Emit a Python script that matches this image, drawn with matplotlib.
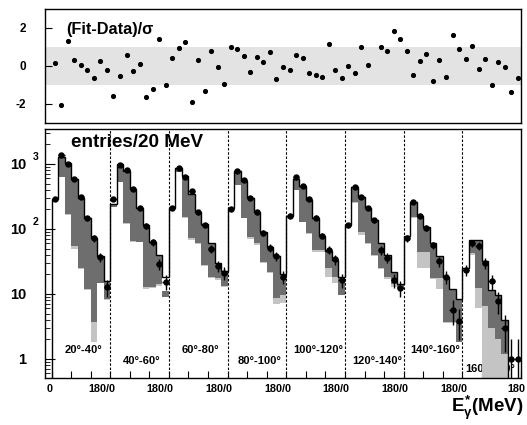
import numpy as np
import matplotlib
matplotlib.use("Agg")
import matplotlib.pyplot as plt
from matplotlib.ticker import FixedLocator, NullFormatter, LogLocator

plt.rcParams['font.family'] = ['Liberation Sans', 'DejaVu Sans']
plt.rcParams['font.weight'] = 'bold'
plt.rcParams['mathtext.fontset'] = 'custom'
plt.rcParams['mathtext.rm'] = 'Liberation Sans:bold'
plt.rcParams['mathtext.bf'] = 'Liberation Sans:bold'
plt.rcParams['mathtext.it'] = 'Liberation Sans:bold'

# 8 angular slices, 9 bins of 20 MeV each (0-180 MeV)
angle_labels = ['20°-40°', '40°-60°', '60°-80°', '80°-100°',
                '100°-120°', '120°-140°', '140°-160°', '160°-180°']

# data points (entries / 20 MeV)
counts = [
    [290, 1380, 1000, 590, 305, 146, 72, 37, 12.7],
    [287, 970, 800, 410, 208, 111, 62, 29, 15.5],
    [213, 880, 640, 390, 180, 115, 50, 26.6, 21.3],
    [200, 782, 570, 297, 180, 86, 51, 38, 18.5],
    [161, 620, 465, 287, 150, 79, 48, 34, 16.3],
    [115, 435, 315, 208, 135, 47, 36, 16.3, 12.4],
    [72, 262, 161, 103, 56, 32, 18.5, 5.7, 3.9],
    [23.5, 60, 55, 30, 15.6, 7.8, 3.0, 1.0, 1.0],
]

# total fit
fit_total = [
    [290, 1260, 1030, 590, 297, 146, 72, 38, 16],
    [240, 990, 790, 410, 213, 115, 62, 40, 18],
    [213, 880, 654, 347, 185, 120, 60, 30, 22.6],
    [208, 782, 555, 297, 181, 90, 52, 38, 20],
    [161, 590, 465, 280, 150, 79, 46, 33, 18.5],
    [115, 449, 315, 208, 135, 60, 40, 22, 14],
    [79, 264, 161, 106, 60, 38, 18.5, 12, 8.4],
    [25, 68, 68, 32, 11.5, 9.7, 4, 0.3, 0.2],
]

# top of dark grey band
band_top = [
    [290, 1260, 1030, 590, 297, 146, 72, 38, 16],
    [240, 990, 790, 410, 213, 115, 62, 40, 11],
    [213, 880, 654, 347, 185, 120, 60, 30, 22.6],
    [208, 782, 555, 297, 181, 90, 52, 38, 20],
    [161, 590, 465, 280, 150, 79, 46, 33, 18.5],
    [115, 449, 315, 208, 135, 60, 40, 22, 14],
    [79, 264, 161, 106, 60, 38, 18.5, 12, 8.4],
    [25, 68, 68, 32, 11.5, 9.7, 4, 0.3, 0.2],
]

# dark grey / light grey boundary
band_mid = [
    [290, 640, 168, 55, 25, 12, 3.7, 15, 8.4],
    [216, 535, 125, 66, 64, 13, 13, 14, 9.1],
    [213, 764, 155, 72, 60, 28, 18.5, 17.4, 13.3],
    [208, 476, 150, 76, 60, 31.5, 22, 8.6, 9.6],
    [161, 400, 130, 86, 47, 47, 25, 18.5, 9.7],
    [115, 258, 91, 60, 40, 25, 18, 14, 12.4],
    [79, 155, 45, 45, 17.4, 17.4, 3.75, 3.75, 1.85],
    [25, 42, 12.2, 6.5, 3, 2, 1.2, 0.3, 0.2],
]

# bottom of light grey band
band_low = [
    [290, 630, 165, 50, 24, 11.5, 1.8, 14.5, 8.2],
    [216, 530, 120, 64, 62, 12, 12.5, 13.5, 9],
    [213, 760, 150, 68, 58, 27, 17.5, 16.5, 13],
    [208, 470, 148, 70, 57, 30, 21, 6.9, 7.3],
    [161, 395, 128, 84, 44, 44, 18.5, 15, 9.5],
    [115, 250, 82, 58, 38, 24, 17, 13, 12],
    [79, 150, 25, 25, 17, 12, 3.6, 3.6, 1.8],
    [25, 40, 6, 0.1, 0.1, 0.1, 0.1, 0.1, 0.1],
]

# (Fit-Data)/sigma  (nan: point outside the shown range)
pull = [
    [0.18, -2.05, 1.30, 0.32, 0.04, -0.19, -0.61, 0.26, -0.19],
    [-1.58, -0.53, 0.60, -0.25, 0.11, -1.65, -1.23, 1.40, -1.02],
    [0.44, 0.93, 1.25, -1.91, 0.32, -1.33, 0.81, -0.04, -0.93],
    [0.98, 0.89, 0.51, -0.33, 0.49, 0.23, 0.75, -0.68, -0.04],
    [-0.19, 0.58, 0.42, -0.35, -0.49, -0.60, 1.18, -0.19, -0.61],
    [-0.02, -0.35, 0.98, 0.05, np.nan, 1.02, 0.79, 1.84, 1.42],
    [0.79, -0.47, 0.28, 0.63, -0.79, 0.33, -0.58, 1.61, 0.91],
    [0.35, 1.05, -0.18, 0.39, -0.98, 0.19, -0.05, -1.37, -0.63],
]

n_seg = len(angle_labels)
seg_w = 180
edges = np.arange(0, n_seg * seg_w + 1, 20)
centers = edges[:-1] + 10

counts = np.ravel(counts)
fit_total = np.ravel(fit_total)
band_top = np.ravel(band_top)
band_mid = np.ravel(band_mid)
band_low = np.ravel(band_low)
pull = np.ravel(pull)

dark = '#6e6e6e'
light = '#c4c4c4'

fig = plt.figure(figsize=(5.27, 4.25), dpi=100)
ax1 = fig.add_axes([45 / 527, 1 - 123 / 425, 476 / 527, 114 / 425])
ax2 = fig.add_axes([45 / 527, 1 - 378 / 425, 476 / 527, 249 / 425])

# ---- top: pulls
ax1.axhspan(-1, 1, color='#e3e3e3', lw=0, zorder=0)
ax1.plot(centers, pull, 'o', color='k', ms=2.7, zorder=3)
ax1.set_xlim(-20, 1440)
ax1.set_ylim(-3, 3)
ax1.set_yticks([-2, 0, 2])
ax1.set_yticklabels(['-2', '0', '2'], fontsize=8.5, fontweight='bold')
ax1.set_xticks([])
ax1.tick_params(axis='y', direction='in', length=5, width=0.8, pad=13.5)
ax1.text(0.045, 0.82, '(Fit-Data)/σ', transform=ax1.transAxes,
         fontsize=11.7, fontweight='bold', va='center')

# ---- bottom: spectra
ymin, ymax = 0.51, 3450
for k in range(n_seg):
    xc = k * seg_w + 98
    yl = 1.37 if k % 2 == 0 else 0.93
    if k == n_seg - 1:
        xc, yl = k * seg_w + 84, 0.70
    ax2.text(xc, yl, angle_labels[k], ha='center', va='center',
             fontsize=8, fontweight='bold', zorder=1)

ax2.stairs(band_top, edges, baseline=band_mid, fill=True, color=dark,
           lw=0, zorder=2)
ax2.stairs(band_mid, edges, baseline=band_low, fill=True, color=light,
           lw=0, zorder=2)
ax2.stairs(fit_total, edges, baseline=1e-3, color='k', lw=1.0, zorder=3)

for k in range(1, n_seg):
    ax2.axvline(k * seg_w, color='k', ls=(0, (2.2, 1.6)), lw=0.8, zorder=4)

err = np.sqrt(counts)
err_lo = np.minimum(err, counts * 0.999)
ax2.errorbar(centers, counts, yerr=[err_lo, err], xerr=10, fmt='o',
             color='k', ms=3.6, elinewidth=1.0, capsize=0, zorder=5)

ax2.set_yscale('log')
ax2.set_xlim(-20, 1440)
ax2.set_ylim(ymin, ymax)
ax2.set_yticks([1, 10, 100, 1000])
ax2.set_yticklabels(['1', '10', '10', '10'], fontsize=10.5, fontweight='bold')
ax2.yaxis.set_minor_locator(LogLocator(base=10, subs=np.arange(2, 10)))
ax2.yaxis.set_minor_formatter(NullFormatter())
ax2.tick_params(axis='y', which='major', direction='in', length=7,
                width=0.8, pad=13.3)
ax2.tick_params(axis='y', which='minor', direction='in', length=3.5,
                width=0.6)
# exponents of the 10^n labels
for yv, ex in [(100, '2'), (1000, '3')]:
    ax2.text(-12 / 476, yv * 1.28, ex, transform=ax2.get_yaxis_transform(),
             ha='left', va='center', fontsize=7.5, fontweight='bold')

ax2.xaxis.set_major_locator(FixedLocator(np.arange(0, 1441, 180)))
ax2.xaxis.set_minor_locator(FixedLocator(np.arange(0, 1441, 60)))
ax2.xaxis.set_major_formatter(NullFormatter())
ax2.tick_params(axis='x', which='both', direction='in', length=5, width=0.8)
xlabels = ['0'] + ['180/0'] * (n_seg - 1) + ['180']
xlab_pos = [-6] + [k * seg_w - 27 for k in range(1, n_seg)] + [1427]
for xp, lab in zip(xlab_pos, xlabels):
    ax2.text(xp, -0.045, lab, transform=ax2.get_xaxis_transform(),
             ha='center', va='center', fontsize=7.8, fontweight='bold')

ax2.text(0.055, 0.945, 'entries/20 MeV', transform=ax2.transAxes,
         fontsize=13.6, fontweight='bold', va='center')
fig.text(523 / 527, 1 - 412 / 425, r'$E^{*}_{\gamma}$(MeV)', ha='right',
         va='baseline', fontsize=13.5, fontweight='bold')

for ax in (ax1, ax2):
    for s in ax.spines.values():
        s.set_linewidth(1.0)

fig.savefig('out.png', dpi=100)
